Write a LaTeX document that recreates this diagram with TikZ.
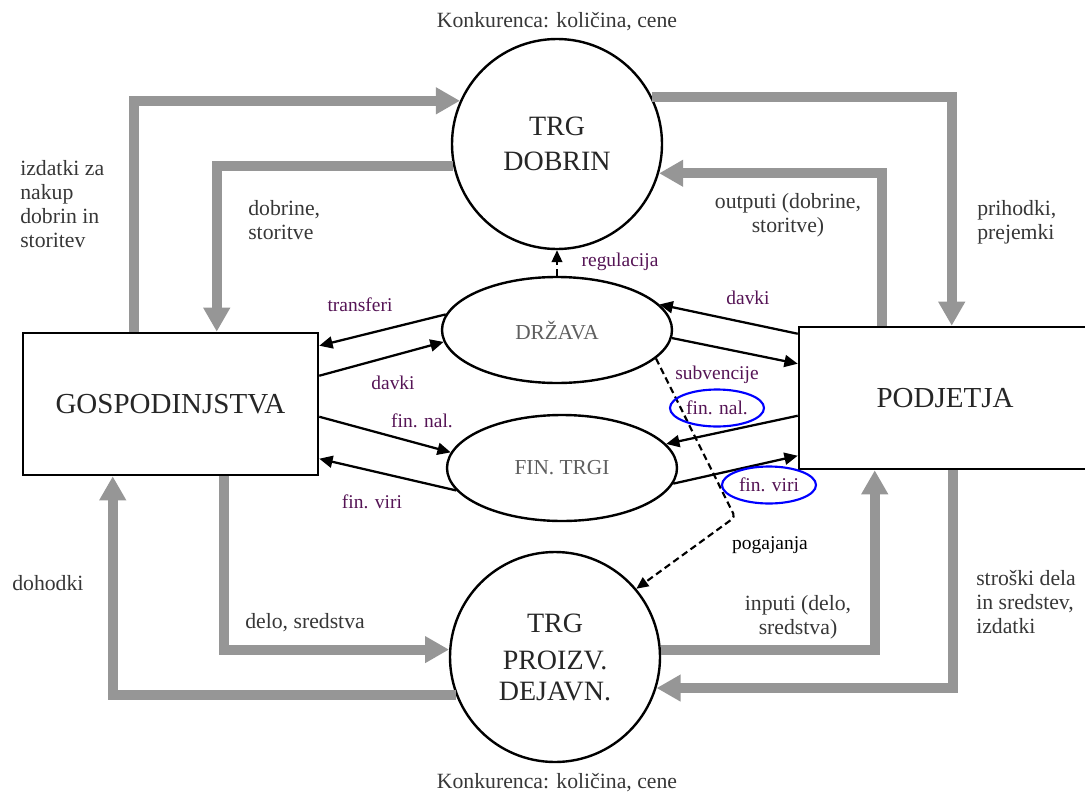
\documentclass[tikz,border=0pt]{standalone}
\usepackage{fontspec}
\setmainfont{Liberation Serif}
\usetikzlibrary{arrows.meta,shapes.geometric,calc}
\definecolor{flowgray}{RGB}{150,150,150}
\definecolor{labpurple}{RGB}{85,20,85}
\definecolor{txtgray}{RGB}{55,55,55}
\definecolor{ellgray}{RGB}{95,95,95}
\begin{document}
\begin{tikzpicture}[x=0.75pt,y=-0.75pt,
  boxnode/.style={draw=black, line width=1.9pt, rectangle, inner sep=0pt, text=black!85,
    font=\fontsize{21.75pt}{26pt}\selectfont},
  market/.style={draw=black, line width=1.8pt, circle, inner sep=0pt, minimum size=157.5pt,
    align=center, text=black!85},
  govell/.style={draw=black, line width=1.8pt, ellipse, inner sep=0pt, minimum width=172.5pt,
    minimum height=79.5pt, text=ellgray, font=\fontsize{16pt}{19pt}\selectfont},
  flow/.style={draw=flowgray, line width=7.5pt, line join=miter, -{Triangle[length=18pt,width=19pt]}},
  barrow/.style={draw=black, line width=1.7pt, -{Triangle[length=10pt,width=9pt]}},
  dsh/.style={draw=black, line width=1.6pt, dash pattern=on 5pt off 3pt, -{Triangle[length=9pt,width=8pt]}},
  glabel/.style={text=txtgray, font=\fontsize{16.3pt}{18pt}\selectfont, inner sep=0pt},
  plabel/.style={text=labpurple, font=\fontsize{14.6pt}{17pt}\selectfont, inner sep=0pt},
  blueell/.style={draw=blue, line width=1.6pt, ellipse, minimum width=70.5pt, minimum height=27.75pt}
]
\useasboundingbox (0,0) rectangle (1085,792);
\clip (0,0) rectangle (1085,792);

% main nodes
\node[boxnode, minimum width=221.25pt, minimum height=106.5pt] (gosp) at (170.5,404) {GOSPODINJSTVA};
\node[boxnode, minimum width=219pt, minimum height=106.5pt] (podj) at (945,398) {PODJETJA};
\node[market, font=\fontsize{21pt}{26pt}\selectfont] (tdob) at (557,144) {TRG\\DOBRIN};
\node[market, font=\fontsize{21pt}{23pt}\selectfont] (tpro) at (555,657) {TRG\\[5pt]PROIZV.\\DEJAVN.};
\node[govell] (drz) at (557,330) {DRŽAVA};
\node[govell] (fin) at (562,468) {FIN. TRGI};

% gray flows
\draw[flow] ($(gosp.north west)+(112,0)$) |- (tdob.156.4);
\draw[flow] (tdob.192.65) -| ($(gosp.north west)+(195,0)$);
\draw[flow] (tdob.26.6) -| ($(podj.north west)+(154,0)$);
\draw[flow] ($(podj.north west)+(84,0)$) |- (tdob.-16);
\draw[flow] (tpro.4.9) -| ($(podj.south west)+(77,0)$);
\draw[flow] ($(podj.south west)+(155,0)$) |- (tpro.-17.7);
\draw[flow] ($(gosp.south west)+(202,0)$) |- (tpro.176);
\draw[flow] (tpro.201.2) -| ($(gosp.south west)+(91,0)$);

% black arrows
\draw[barrow] (drz.172) -- ($(gosp.north east)+(0,14)$);
\draw[barrow] ($(gosp.north east)+(0,44)$) -- (drz.186);
\draw[barrow] ($(gosp.north east)+(0,85)$) -- (fin.172);
\draw[barrow] (fin.192) -- ($(gosp.north east)+(0,127)$);
\draw[barrow] ($(podj.north west)+(0,8)$) -- (drz.14);
\draw[barrow] (drz.-4) -- ($(podj.north west)+(0,38)$);
\draw[barrow] ($(podj.north west)+(0,90)$) -- (fin.13);
\draw[barrow] (fin.-8) -- ($(podj.north west)+(0,130)$);

% dashed arrows
\draw[dsh] (drz.north) -- (tdob.south);
\coordinate (bend) at (735,517);
\draw[dsh, rounded corners=3pt] (drz.-16.8) -- (bend) -- (tpro.40);

% gray labels
\node[glabel] (k1) at (557,22) {Konkurenca: količina, cene};
\node[glabel] (k2) at (557,783) {Konkurenca: količina, cene};
\node[glabel, anchor=west, align=left] (l1) at (20,204) {izdatki za\\nakup\\dobrin in\\storitev};
\node[glabel, anchor=west, align=left] (l2) at (248,220) {dobrine,\\storitve};
\node[glabel, align=center] (l3) at (788,215) {outputi (dobrine,\\storitve)};
\node[glabel, anchor=west, align=left] (l4) at (977,222) {prihodki,\\prejemki};
\node[glabel, anchor=west] (l5) at (12,583) {dohodki};
\node[glabel, anchor=west] (l6) at (245,623) {delo, sredstva};
\node[glabel, align=center] (l7) at (798,617) {inputi (delo,\\sredstva)};
\node[glabel, anchor=west, align=left] (l8) at (976,602) {stroški dela\\in sredstev,\\izdatki};

% purple labels
\node[plabel] (pt) at (360,305) {transferi};
\node[plabel] (pd1) at (393,383) {davki};
\node[plabel] (pf1) at (422,421) {fin. nal.};
\node[plabel] (pv1) at (372,502) {fin. viri};
\node[plabel] (pd2) at (748,298) {davki};
\node[plabel] (ps) at (717,375) {subvencije};
\node[plabel, blueell] (pf2) at (717,408) {fin. nal.};
\node[plabel, blueell] (pv2) at (769,485) {fin. viri};
\node[plabel] (reg) at (620,262) {regulacija};
\node[plabel, text=black] (pog) at (770,545) {pogajanja};
\end{tikzpicture}
\end{document}
